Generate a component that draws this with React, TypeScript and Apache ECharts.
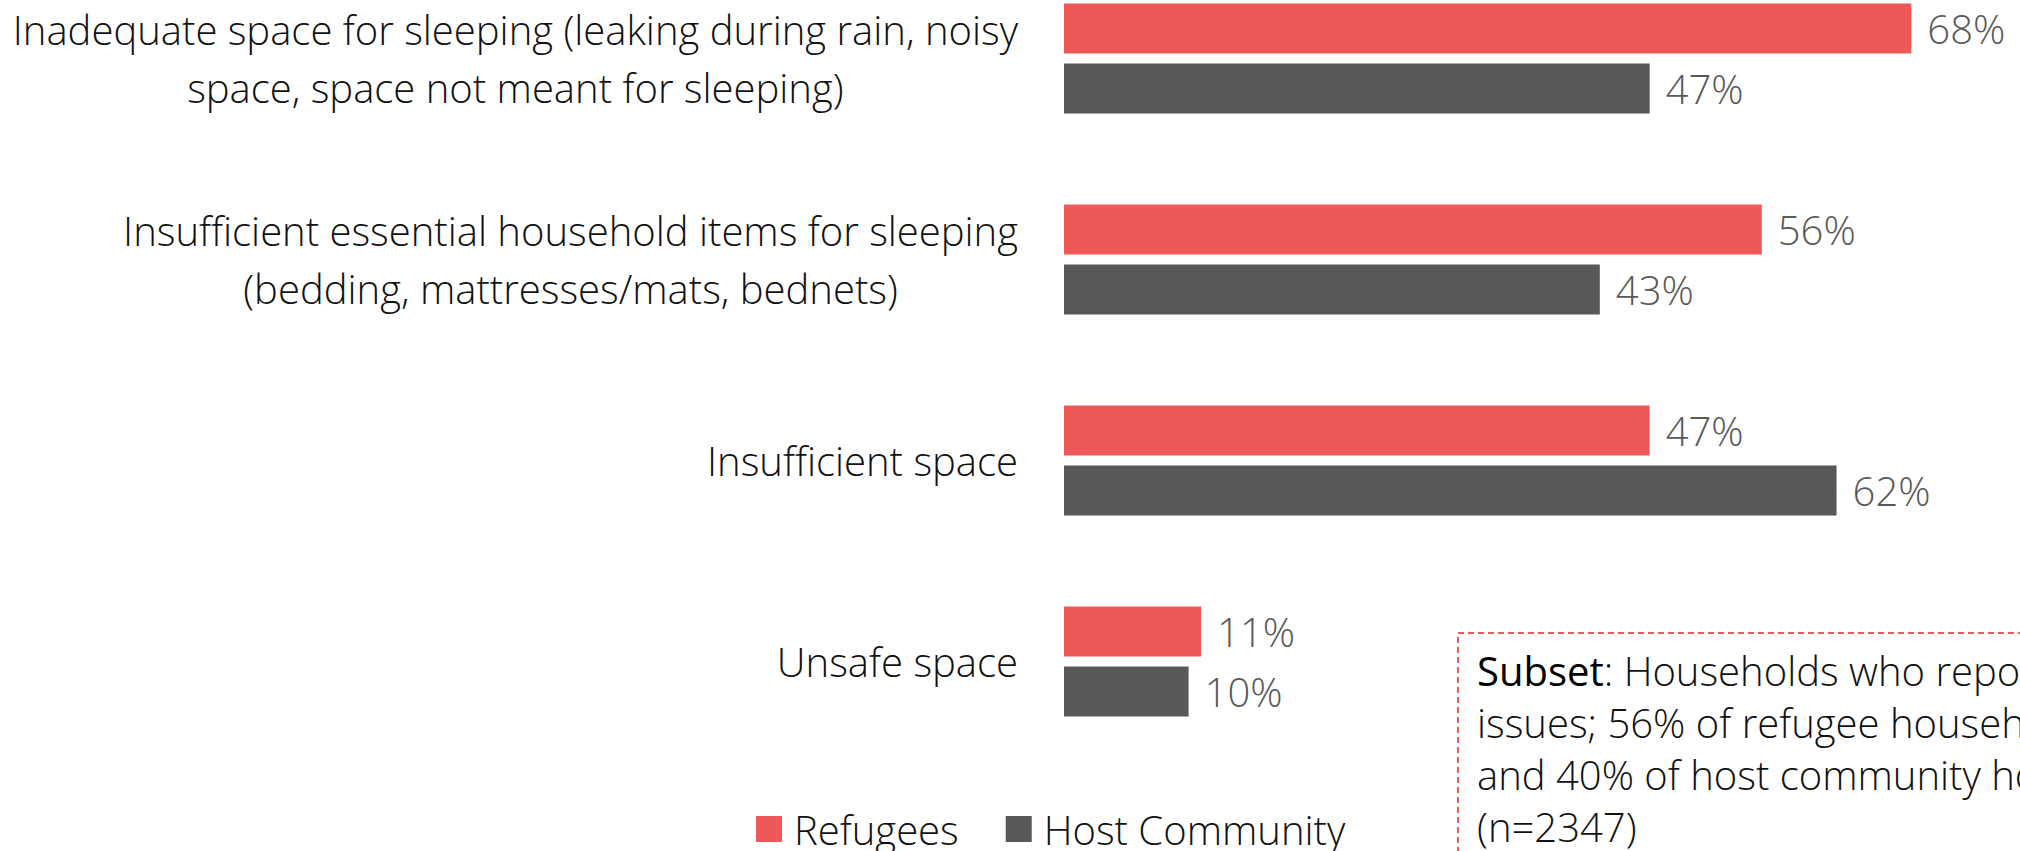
import React, { useEffect, useRef } from 'react';
import * as echarts from 'echarts';

const categories = [
  'Inadequate space for sleeping (leaking during rain, noisy\nspace, space not meant for sleeping)',
  'Insufficient essential household items for sleeping\n(bedding, mattresses/mats, bednets)',
  'Insufficient space',
  'Unsafe space',
];
const refugees = [68, 56, 47, 11];
const hostCommunity = [47, 43, 62, 10];
const seriesNames = ['Refugees', 'Host Community'];
const noteLines = [
  '{b|Subset}: Households who reported shelter',
  'issues; 56% of refugee households',
  'and 40% of host community households',
  '(n=2347)',
];

const RED = '#EE5859';
const GRAY = '#58585A';
const FONT = '"Open Sans", "Noto Sans", sans-serif';
const FS = 40;
const SHIFT = 42; // chart div starts above the page so the first band can start above the top edge

export default function App() {
  const ref = useRef<HTMLDivElement>(null);
  useEffect(() => {
    if (!ref.current) return;
    const chart = echarts.init(ref.current, undefined, { renderer: 'svg' });
    const valueLabel = {
      show: true,
      position: 'right',
      distance: 16,
      formatter: '{c}%',
      fontSize: FS,
      fontFamily: FONT,
      fontWeight: 300,
      color: '#595959',
    };
    chart.setOption({
      animation: false,
      backgroundColor: '#ffffff',
      grid: { left: 1064, right: 9, top: 0, height: 804, containLabel: false },
      xAxis: { type: 'value', min: 0, max: 76, show: false },
      yAxis: {
        type: 'category',
        inverse: true,
        data: categories,
        axisLine: { show: false },
        axisTick: { show: false },
        axisLabel: {
          margin: 46,
          align: 'right',
          formatter: (v: string) => v.split('\n').map((l) => `{c|${l}}`).join('\n'),
          rich: {
            c: {
              align: 'center',
              fontSize: FS,
              fontFamily: FONT,
              fontWeight: 300,
              color: '#111111',
              lineHeight: 58,
            },
          },
        },
      },
      legend: {
        data: seriesNames,
        icon: 'rect',
        itemWidth: 26,
        itemHeight: 26,
        left: 751,
        top: 800 + SHIFT,
        itemGap: 47,
        textStyle: {
          fontSize: FS,
          fontFamily: FONT,
          fontWeight: 300,
          color: '#111111',
          padding: [0, 0, 0, 7],
          lineHeight: 48,
        },
      },
      series: [
        {
          name: seriesNames[0],
          type: 'bar',
          data: refugees,
          barWidth: 50,
          barGap: '20%',
          itemStyle: { color: RED },
          label: valueLabel,
        },
        {
          name: seriesNames[1],
          type: 'bar',
          data: hostCommunity,
          barWidth: 50,
          barGap: '20%',
          itemStyle: { color: GRAY },
          label: valueLabel,
        },
      ],
      graphic: [
        {
          type: 'rect',
          shape: { x: 1458, y: 633 + SHIFT, width: 800, height: 400 },
          style: { fill: 'none', stroke: RED, lineWidth: 2, lineDash: [6, 4] },
          silent: true,
        },
        {
          type: 'text',
          x: 1477,
          y: 644 + SHIFT,
          silent: true,
          style: {
            text: noteLines.join('\n'),
            fontSize: FS,
            fontFamily: FONT,
            fontWeight: 300,
            fill: '#111111',
            lineHeight: 52,
            verticalAlign: 'top',
            rich: {
              b: {
                fontSize: FS,
                fontFamily: FONT,
                fontWeight: 'normal',
                fill: '#000000',
                lineHeight: 52,
              },
            },
          },
        },
      ],
    });
    return () => chart.dispose();
  }, []);
  return (
    <div
      ref={ref}
      style={{ position: 'absolute', left: 0, top: -SHIFT, width: 2020, height: 851 + SHIFT }}
    />
  );
}
